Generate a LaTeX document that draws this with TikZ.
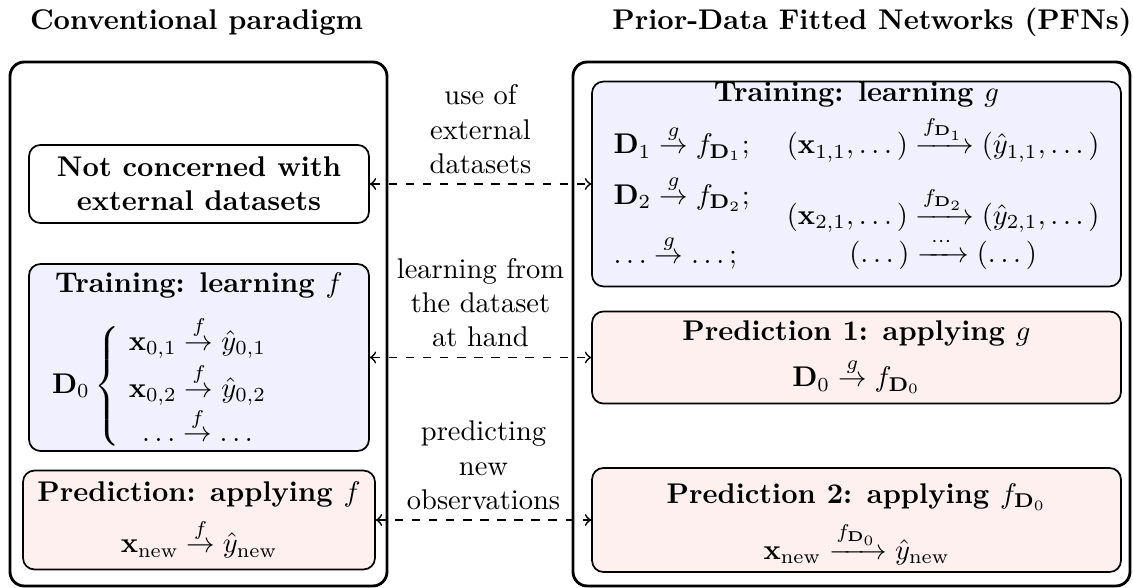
\documentclass[tikz,border=0pt]{standalone}
\usepackage{amsmath}
\begin{document}
\begin{tikzpicture}[x=0.3509pt, y=-0.3509pt,
  frame/.style={draw, line width=1pt, rounded corners=5pt},
  box/.style={draw, line width=0.6pt, rounded corners=4pt, align=center, inner sep=2pt},
  plainbox/.style={box, fill=white},
  trainbox/.style={box, fill=blue!6},
  predbox/.style={box, fill=red!6},
  content/.style={align=center, inner sep=0pt},
  link/.style={<->, dashed, line width=0.6pt},
  note/.style={above, align=center},
  head/.style={font=\bfseries}]
\useasboundingbox (0,0) rectangle (1133,588);

% titles
\node[head] (lt) at (196.5,22) {Conventional paradigm};
\node[head] (rt) at (872,22) {Prior-Data Fitted Networks (PFNs)};

% outer frames
\coordinate (lfa) at (10,62);  \coordinate (lfb) at (387,586);
\coordinate (rfa) at (573,62); \coordinate (rfb) at (1130,586);
\draw[frame] (lfa) rectangle (lfb);
\draw[frame] (rfa) rectangle (rfb);

% left column
\node[plainbox, minimum width=119.3pt, minimum height=27.4pt] (notc) at (199,184)
  {\textbf{Not concerned with}\\\textbf{external datasets}};

\node[trainbox, minimum width=119.3pt, minimum height=65.6pt] (trainf) at (199,357.5) {};
\node[content] (trainft) at (199,285) {\textbf{Training: learning $f$}};
\node[content, anchor=east] (trainfd) at (124,386)
  {$\mathbf{D}_0\left\{\vrule height 22.5pt depth 17.5pt width 0pt\right.$};
\node[content] (trainfr) at (197.5,384)
  {$\begin{array}{@{}c@{}}
     \mathbf{x}_{0,1}\stackrel{f}{\to}\hat{y}_{0,1}\\[1pt]
     \mathbf{x}_{0,2}\stackrel{f}{\to}\hat{y}_{0,2}\\[0pt]
     \dots\stackrel{f}{\to}\dots
   \end{array}$};

\node[predbox, minimum width=123.5pt, minimum height=34.7pt] (predf) at (199,520)
  {\textbf{Prediction: applying $f$}\\[3pt]
   $\mathbf{x}_{\text{new}}\stackrel{f}{\to}\hat{y}_{\text{new}}$};

% right column
\node[trainbox, minimum width=185.6pt, minimum height=71.9pt] (traing) at (856.5,184) {};
\node[content] (traingt) at (856.5,178)
  {\textbf{Training: learning $g$}\\[2pt]
   $\begin{array}[t]{@{}l@{}}
     \mathbf{D}_1\stackrel{g}{\to}f_{\mathbf{D}_1};\\[4pt]
     \mathbf{D}_2\stackrel{g}{\to}f_{\mathbf{D}_2};\\[7pt]
     \dots\stackrel{g}{\to}\dots;
   \end{array}\hspace{13pt}
   \begin{array}[t]{@{}c@{}}
     (\mathbf{x}_{1,1},\dots)\xrightarrow{f_{\mathbf{D}_1}}(\hat{y}_{1,1},\dots)\\[8pt]
     (\mathbf{x}_{2,1},\dots)\xrightarrow{f_{\mathbf{D}_2}}(\hat{y}_{2,1},\dots)\\[0pt]
     (\dots)\xrightarrow{\;\cdots\;}(\dots)
   \end{array}$};

\node[predbox, minimum width=185.6pt, minimum height=32.3pt] (pred1) at (856.5,357.5)
  {\textbf{Prediction 1: applying $g$}\\[3pt]
   $\mathbf{D}_0\stackrel{g}{\to}f_{\mathbf{D}_0}$};

\node[predbox, minimum width=185.6pt, minimum height=36.5pt] (pred2) at (856.5,520) {};
\node[content] (pred2t) at (856.5,524)
  {\textbf{Prediction 2: applying $f_{\mathbf{D}_0}$}\\[3pt]
   $\mathbf{x}_{\text{new}}\xrightarrow{f_{\mathbf{D}_0}}\hat{y}_{\text{new}}$};

% connectors
\draw[link] (notc.east) -- node[note] (n1) {use of\\external\\datasets} (traing.west);
\draw[link] (trainf.east) -- node[note] (n2) {learning from\\the dataset\\at hand} (pred1.west);
\draw[link] (predf.east) -- node[note] (n3) {predicting\\new\\observations} (pred2.west);
\end{tikzpicture}
\end{document}
